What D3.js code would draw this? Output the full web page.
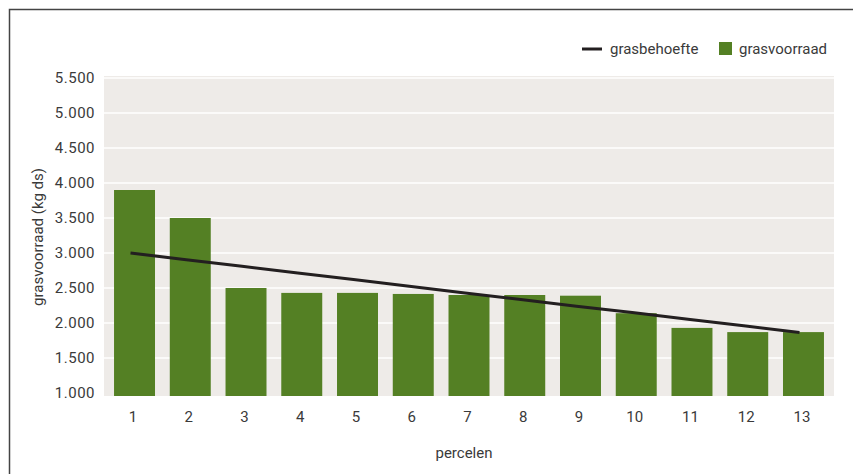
<!DOCTYPE html>
<html>
<head>
<meta charset="utf-8">
<script src="https://cdn.jsdelivr.net/npm/d3@7"></script>
<style>
  html, body { margin: 0; padding: 0; background: #fff; }
  svg { display: block; }
  text { font-family: Roboto, "Liberation Sans", sans-serif; fill: #3a3a3a; }
</style>
</head>
<body>
<svg id="chart" width="853" height="474"></svg>
<script>
const categories = ["1","2","3","4","5","6","7","8","9","10","11","12","13"];
const grasvoorraad = [3900, 3500, 2500, 2430, 2430, 2415, 2400, 2400, 2390, 2140, 1930, 1870, 1870];
const grasbehoefte = [3000, 2905, 2810, 2715, 2620, 2525, 2430, 2335, 2240, 2150, 2055, 1960, 1865];
const yTicks = [1000, 1500, 2000, 2500, 3000, 3500, 4000, 4500, 5000, 5500];
const yLabel = "grasvoorraad (kg ds)";
const xLabel = "percelen";
const legendItems = ["grasbehoefte", "grasvoorraad"];

const svg = d3.select("#chart");
const green = "#548024";
const font = "Roboto, Liberation Sans, sans-serif";
const plot = {left: 104, right: 834, top: 76, bottom: 396};

// frame
svg.append("path")
  .attr("d", "M9.5,480 V9.5 H860")
  .attr("fill", "none").attr("stroke", "#444").attr("stroke-width", 1.5);

const x = d3.scaleBand().domain(categories)
  .range([plot.left, plot.right]).paddingInner(0.265).paddingOuter(0.18);
const y = d3.scaleLinear().domain([1000, 5500]).range([393, 78]);

// background
svg.append("rect").attr("x", plot.left).attr("y", plot.top)
  .attr("width", plot.right - plot.left).attr("height", plot.bottom - plot.top)
  .attr("fill", "#eeebe8");

// gridlines
svg.append("g").selectAll("line").data(yTicks.slice(1)).join("line")
  .attr("x1", plot.left).attr("x2", plot.right)
  .attr("y1", d => y(d)).attr("y2", d => y(d))
  .attr("stroke", "#fff").attr("stroke-width", 1.5);

// bars
svg.append("g").selectAll("rect").data(grasvoorraad).join("rect")
  .attr("x", (d, i) => x(categories[i]))
  .attr("y", d => y(d))
  .attr("width", x.bandwidth())
  .attr("height", d => plot.bottom - y(d))
  .attr("fill", green);

// line
const line = d3.line()
  .x((d, i) => x(categories[i]) + x.bandwidth() / 2 - 4)
  .y(d => y(d));
svg.append("path").datum(grasbehoefte)
  .attr("d", line).attr("fill", "none")
  .attr("stroke", "#231f20").attr("stroke-width", 3);

// y axis
const yAxis = d3.axisLeft(y).tickValues(yTicks).tickSize(0).tickPadding(0)
  .tickFormat(d => d3.format(",")(d).replace(/,/g, "."));
const gy = svg.append("g").attr("transform", `translate(95,0)`).call(yAxis);
gy.select(".domain").remove();
gy.selectAll("text").attr("font-size", 15).attr("fill", "#3a3a3a")
  .style("letter-spacing", "0.5px")
  .attr("font-family", font);

// x axis
const xAxis = d3.axisBottom(x).tickSize(0).tickPadding(0);
const gx = svg.append("g").attr("transform", `translate(-1.5,${plot.bottom})`).call(xAxis);
gx.select(".domain").remove();
gx.selectAll("text").attr("font-size", 15).attr("fill", "#3a3a3a")
  .attr("dy", null).attr("y", 26)
  .attr("font-family", font);

// axis titles
svg.append("text").attr("x", 464).attr("y", 458).attr("text-anchor", "middle")
  .attr("font-size", 15).text(xLabel);
svg.append("text").attr("transform", "translate(43,237) rotate(-90)")
  .attr("text-anchor", "middle").attr("font-size", 15).text(yLabel);

// legend
const lg = svg.append("g");
lg.append("line").attr("x1", 582).attr("x2", 602).attr("y1", 49).attr("y2", 49)
  .attr("stroke", "#231f20").attr("stroke-width", 3);
lg.append("text").attr("x", 610).attr("y", 54).attr("font-size", 15).text(legendItems[0]);
lg.append("rect").attr("x", 719).attr("y", 42).attr("width", 13).attr("height", 13).attr("fill", green);
lg.append("text").attr("x", 739).attr("y", 54).attr("font-size", 15).text(legendItems[1]);
</script>
</body>
</html>
